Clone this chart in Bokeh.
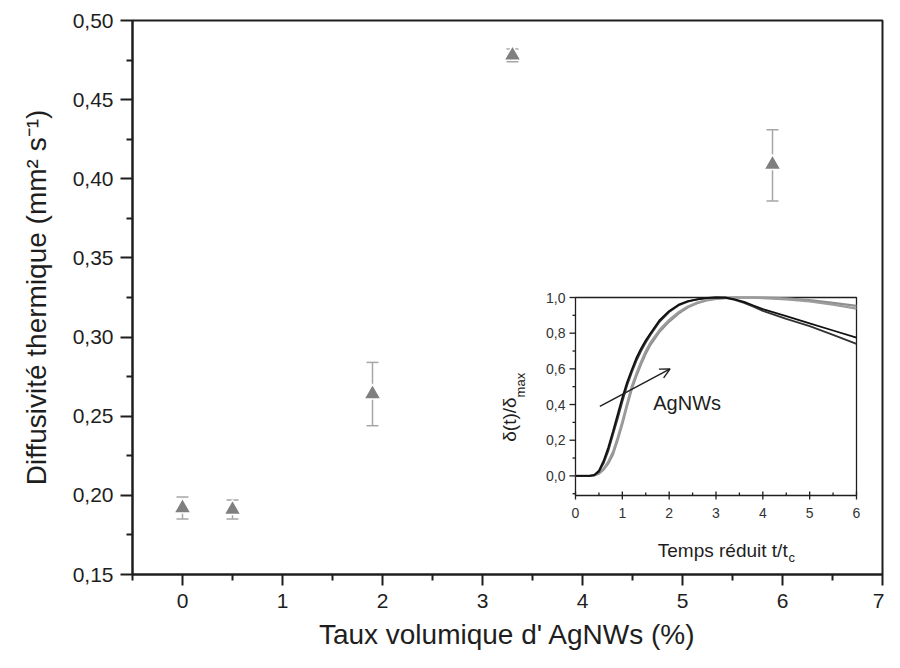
import math
from bokeh.plotting import figure
from bokeh.models import (Range1d, FixedTicker, Whisker, ColumnDataSource, Arrow,
                          OpenHead, Label, TeeHead)
from bokeh.embed import file_html
from bokeh.resources import INLINE
from bokeh.core.properties import value

FONT = "Liberation Sans"
DARK = "#1e1e1e"

# ---------------- main data ----------------
taux = [0.0, 0.5, 1.9, 3.3, 5.9]
diffusivite = [0.192, 0.191, 0.264, 0.478, 0.409]
err_bas = [0.185, 0.185, 0.244, 0.474, 0.386]
err_haut = [0.199, 0.197, 0.284, 0.482, 0.431]

x_ticks = [0, 1, 2, 3, 4, 5, 6, 7]
x_tick_labels = ["0", "1", "2", "3", "4", "5", "6", "7"]
x_minor = [-0.5, 0.5, 1.5, 2.5, 3.5, 4.5, 5.5, 6.5]
y_ticks = [0.15, 0.20, 0.25, 0.30, 0.35, 0.40, 0.45, 0.50]
y_tick_labels = ["0,15", "0,20", "0,25", "0,30", "0,35", "0,40", "0,45", "0,50"]
y_minor = [0.175, 0.225, 0.275, 0.325, 0.375, 0.425, 0.475]

# ---------------- inset data ----------------
t_reduit = [0.0, 0.3, 0.4, 0.5, 0.6, 0.7, 0.8, 0.9, 1.0, 1.1, 1.2, 1.3, 1.4, 1.5, 1.6,
            1.8, 2.0, 2.2, 2.4, 2.6, 2.8, 3.0, 3.2, 3.4, 3.6, 3.8, 4.0, 4.5, 5.0, 5.5, 6.0]
noire_1 = [0.0, 0.0, 0.005, 0.03, 0.085, 0.16, 0.25, 0.345, 0.44, 0.525, 0.595, 0.662, 0.715,
           0.76, 0.80, 0.875, 0.925, 0.96, 0.98, 0.99, 0.998, 1.0, 1.0, 0.99, 0.975, 0.955,
           0.935, 0.895, 0.855, 0.815, 0.775]
noire_2 = [0.0, 0.0, 0.003, 0.022, 0.07, 0.14, 0.23, 0.32, 0.415, 0.505, 0.578, 0.645, 0.70,
           0.748, 0.79, 0.865, 0.918, 0.955, 0.977, 0.99, 0.997, 1.0, 0.998, 0.987, 0.97,
           0.948, 0.925, 0.88, 0.84, 0.79, 0.74]
grise_1 = [0.0, 0.0, 0.002, 0.012, 0.035, 0.07, 0.12, 0.20, 0.29, 0.39, 0.485, 0.56, 0.625,
           0.685, 0.735, 0.81, 0.865, 0.91, 0.945, 0.968, 0.983, 0.992, 0.997, 1.0, 1.0, 1.0,
           0.999, 0.995, 0.985, 0.97, 0.953]
grise_2 = [0.0, 0.0, 0.003, 0.015, 0.04, 0.08, 0.135, 0.215, 0.305, 0.405, 0.50, 0.575, 0.64,
           0.70, 0.748, 0.82, 0.875, 0.918, 0.95, 0.972, 0.986, 0.994, 0.998, 1.0, 1.0, 0.999,
           0.997, 0.99, 0.978, 0.96, 0.938]

in_x_ticks = [0, 1, 2, 3, 4, 5, 6]
in_x_tick_labels = ["0", "1", "2", "3", "4", "5", "6"]
in_x_minor = [0.5, 1.5, 2.5, 3.5, 4.5, 5.5]
in_y_ticks = [0.0, 0.2, 0.4, 0.6, 0.8, 1.0]
in_y_tick_labels = ["0,0", "0,2", "0,4", "0,6", "0,8", "1,0"]
in_y_minor = [-0.1, 0.1, 0.3, 0.5, 0.7, 0.9]
in_x_lim = (0.0, 6.0)
in_y_lim = (-0.11, 1.0)

# ---------------- layout (pixels) ----------------
FRAME_W, FRAME_H = 750, 554
B_LEFT, B_TOP, B_RIGHT = 132, 20, 2
B_BOTTOM = 652 - B_TOP - FRAME_H
# inset frame box inside the main frame: left offset, top offset, width, height
IN_L, IN_T, IN_W, IN_H = 443, 277, 281, 198

sx = IN_W / (in_x_lim[1] - in_x_lim[0])
sy = IN_H / (in_y_lim[1] - in_y_lim[0])
in_xr = Range1d(in_x_lim[0] - IN_L / sx, in_x_lim[1] + (FRAME_W - IN_L - IN_W) / sx)
in_yr = Range1d(in_y_lim[0] - (FRAME_H - IN_T - IN_H) / sy, in_y_lim[1] + IN_T / sy)

# ---------------- main figure ----------------
p = figure(frame_width=FRAME_W, frame_height=FRAME_H,
           x_range=Range1d(-0.5, 7), y_range=Range1d(0.15, 0.50),
           output_backend="svg", toolbar_location=None,
           min_border_left=B_LEFT, min_border_right=B_RIGHT,
           min_border_top=B_TOP, min_border_bottom=B_BOTTOM)
p.extra_x_ranges = {"in_x": in_xr}
p.extra_y_ranges = {"in_y": in_yr}
p.grid.visible = False
p.outline_line_color = DARK
p.outline_line_width = 2
p.background_fill_color = "white"
p.border_fill_color = "white"

p.xaxis.ticker = FixedTicker(ticks=x_ticks, minor_ticks=x_minor)
p.yaxis.ticker = FixedTicker(ticks=y_ticks, minor_ticks=y_minor)
p.xaxis.major_label_overrides = {float(t): l for t, l in zip(x_ticks, x_tick_labels)}
p.yaxis.major_label_overrides = {t: l for t, l in zip(y_ticks, y_tick_labels)}
p.xaxis.axis_label = "Taux volumique d' AgNWs (%)"
p.yaxis.axis_label = "Diffusivité thermique (mm² s⁻¹)"

for ax in (p.xaxis, p.yaxis):
    ax.axis_line_color = DARK
    ax.axis_line_width = 2
    ax.major_tick_line_color = DARK
    ax.major_tick_line_width = 2
    ax.minor_tick_line_color = DARK
    ax.minor_tick_line_width = 2
    ax.major_tick_in = 0
    ax.minor_tick_in = 0
    ax.minor_tick_out = 6
    ax.major_label_text_font = FONT
    ax.major_label_text_font_size = "21px"
    ax.major_label_text_color = DARK
    ax.axis_label_text_font = FONT
    ax.axis_label_text_font_size = "28px"
    ax.axis_label_text_font_style = "normal"
    ax.axis_label_text_color = DARK
p.xaxis.major_tick_out = 11
p.yaxis.major_tick_out = 12
p.xaxis.major_label_standoff = 8
p.yaxis.major_label_standoff = 7
p.xaxis.axis_label_standoff = 8
p.yaxis.axis_label_standoff = 18

src = ColumnDataSource(dict(x=taux, y=diffusivite, lower=err_bas, upper=err_haut))
ERR = "#a6a6a6"
w = Whisker(source=src, base="x", upper="upper", lower="lower",
            line_color=ERR, line_width=1.5, level="underlay",
            upper_head=TeeHead(size=12, line_color=ERR, line_width=1.5),
            lower_head=TeeHead(size=12, line_color=ERR, line_width=1.5))
p.add_layout(w)
p.scatter("x", "y", source=src, marker="triangle", size=17,
          fill_color="#7f7f7f", line_color="white", line_width=1.5)

# ---------------- inset (drawn on the extra ranges) ----------------
R = dict(x_range_name="in_x", y_range_name="in_y")
p.quad(left=[in_x_lim[0]], right=[in_x_lim[1]], bottom=[in_y_lim[0]], top=[in_y_lim[1]],
       fill_color="white", line_color=DARK, line_width=1.3, **R)

GREY = "#8f8f8f"
p.line(t_reduit, grise_1, line_color=GREY, line_width=2.2, **R)
p.line(t_reduit, grise_2, line_color="#9c9c9c", line_width=2.2, **R)
p.line(t_reduit, noire_2, line_color="#333333", line_width=1.8, **R)
p.line(t_reduit, noire_1, line_color="#111111", line_width=1.8, **R)

# inset ticks
n_x, n_xm = len(in_x_ticks), len(in_x_minor)
n_y, n_ym = len(in_y_ticks), len(in_y_minor)
p.ray(x=in_x_ticks, y=[in_y_lim[0]] * n_x, length=4, angle=-math.pi / 2,
      length_units="screen", line_color=DARK, line_width=1.3, **R)
p.ray(x=in_x_ticks, y=[in_y_lim[0]] * n_x, length=4, angle=math.pi / 2,
      length_units="screen", line_color=DARK, line_width=1.3, **R)
p.ray(x=in_x_minor, y=[in_y_lim[0]] * n_xm, length=3, angle=math.pi / 2,
      length_units="screen", line_color=DARK, line_width=1.3, **R)
p.ray(x=[in_x_lim[0]] * n_y, y=in_y_ticks, length=6, angle=math.pi,
      length_units="screen", line_color=DARK, line_width=1.3, **R)
p.ray(x=[in_x_lim[0]] * n_ym, y=in_y_minor, length=3, angle=math.pi,
      length_units="screen", line_color=DARK, line_width=1.3, **R)

# inset tick labels
p.text(x=in_x_ticks, y=[in_y_lim[0]] * n_x, text=in_x_tick_labels, y_offset=12,
       text_align="center", text_baseline="top", text_font=value(FONT),
       text_font_size="14px", text_color="#333333", **R)
p.text(x=[in_x_lim[0]] * n_y, y=in_y_ticks, text=in_y_tick_labels, x_offset=-10,
       text_align="right", text_baseline="middle", text_font=value(FONT),
       text_font_size="14px", text_color="#333333", **R)

fleche_debut = (0.52, 0.39)
fleche_fin = (2.02, 0.60)
p.add_layout(Arrow(end=OpenHead(size=10, line_width=1.4, line_color=DARK),
                   x_start=fleche_debut[0], y_start=fleche_debut[1],
                   x_end=fleche_fin[0], y_end=fleche_fin[1],
                   line_width=1.4, line_color=DARK, **R))
p.add_layout(Label(x=1.66, y=0.41, text="AgNWs", text_font=FONT, text_font_size="20px",
                   text_color=DARK, text_baseline="middle", text_align="left", **R))

# inset axis titles (with subscripts)
p.add_layout(Label(x=4.53, y=-0.42, text="Temps réduit t/t", text_font=FONT,
                   text_font_size="19px", text_color=DARK, text_align="right",
                   text_baseline="alphabetic", **R))
p.add_layout(Label(x=4.55, y=-0.458, text="c", text_font=FONT,
                   text_font_size="13px", text_color=DARK, text_align="left",
                   text_baseline="alphabetic", **R))
p.add_layout(Label(x=-1.40, y=0.44, text="δ(t)/δ", text_font=FONT,
                   text_font_size="19px", text_color=DARK, text_align="right",
                   text_baseline="middle", angle=math.pi / 2, **R))
p.add_layout(Label(x=-1.17, y=0.44, text="max", text_font=FONT,
                   text_font_size="13px", text_color=DARK, text_align="left",
                   text_baseline="middle", angle=math.pi / 2, **R))

open("out.html", "w").write(file_html(p, INLINE))
